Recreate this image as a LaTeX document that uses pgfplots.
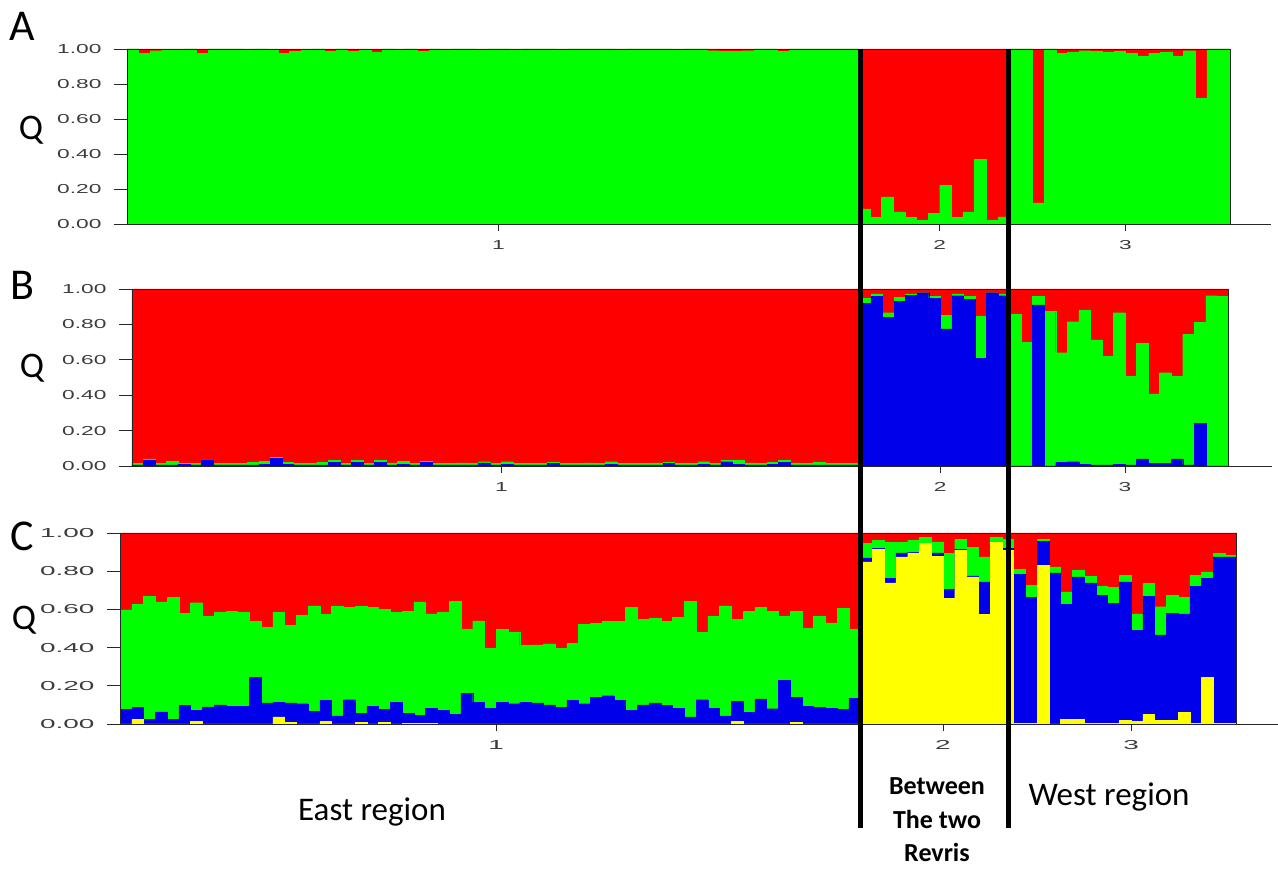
\documentclass[border=0pt]{standalone}
\usepackage{pgfplots}
\pgfplotsset{compat=1.18}
\usepackage{pgfplotstable}
\usepackage{fontspec}
\setmainfont{Carlito}
\newfontfamily\tickfont[FakeStretch=1.75]{Liberation Sans}
\newfontfamily\tickfontC[FakeStretch=2.15]{Liberation Sans}
\definecolor{cR}{RGB}{255,0,0}
\definecolor{cG}{RGB}{0,255,0}
\definecolor{cB}{RGB}{0,0,235}
\definecolor{cY}{RGB}{255,255,0}
\definecolor{tickgray}{RGB}{60,60,60}

% Panel A (K=2): g = cumulative green (bottom)
\pgfplotstableread{
i g
1 1.000
2 0.975
3 0.990
4 0.995
5 0.995
6 1.000
7 0.975
8 1.000
9 1.000
10 1.000
11 0.995
12 1.000
13 0.995
14 0.975
15 0.985
16 0.995
17 1.000
18 0.985
19 1.000
20 0.985
21 0.995
22 0.980
23 1.000
24 0.995
25 1.000
26 0.985
27 1.000
28 0.995
29 1.000
30 1.000
31 0.995
32 1.000
33 1.000
34 0.995
35 1.000
36 1.000
37 1.000
38 0.995
39 1.000
40 1.000
41 1.000
42 1.000
43 0.995
44 1.000
45 1.000
46 1.000
47 1.000
48 0.995
49 1.000
50 1.000
51 0.990
52 0.985
53 0.985
54 0.990
55 1.000
56 1.000
57 0.985
58 1.000
59 1.000
60 1.000
61 1.000
62 1.000
63 1.000
64 0.086
65 0.038
66 0.155
67 0.069
68 0.038
69 0.021
70 0.061
71 0.222
72 0.038
73 0.069
74 0.369
75 0.021
76 0.040
77 1.000
78 1.000
79 0.120
80 1.000
81 0.977
82 0.980
83 0.990
84 0.985
85 0.980
86 0.985
87 0.977
88 0.958
89 0.977
90 0.980
91 0.956
92 0.990
93 0.717
94 1.000
95 1.000
}\dataA

% Panel B (K=3): b = blue, g = blue+green (cumulative)
\pgfplotstableread{
i g b
1 0.016 0.006
2 0.040 0.034
3 0.016 0.006
4 0.028 0.006
5 0.016 0.008
6 0.016 0.006
7 0.034 0.030
8 0.016 0.006
9 0.014 0.006
10 0.014 0.006
11 0.020 0.006
12 0.028 0.008
13 0.048 0.043
14 0.022 0.010
15 0.016 0.006
16 0.014 0.006
17 0.020 0.006
18 0.030 0.022
19 0.016 0.006
20 0.030 0.022
21 0.016 0.006
22 0.030 0.022
23 0.018 0.006
24 0.028 0.010
25 0.016 0.006
26 0.026 0.020
27 0.016 0.006
28 0.014 0.006
29 0.018 0.006
30 0.016 0.006
31 0.024 0.018
32 0.016 0.006
33 0.024 0.008
34 0.016 0.006
35 0.014 0.006
36 0.016 0.006
37 0.022 0.016
38 0.016 0.006
39 0.014 0.006
40 0.018 0.006
41 0.016 0.006
42 0.024 0.008
43 0.016 0.006
44 0.014 0.006
45 0.016 0.006
46 0.018 0.006
47 0.022 0.016
48 0.016 0.006
49 0.014 0.006
50 0.024 0.008
51 0.016 0.006
52 0.030 0.024
53 0.030 0.010
54 0.018 0.006
55 0.016 0.006
56 0.020 0.008
57 0.032 0.022
58 0.018 0.006
59 0.014 0.006
60 0.022 0.006
61 0.016 0.006
62 0.014 0.006
63 0.016 0.006
64 0.947 0.919
65 0.972 0.960
66 0.866 0.838
67 0.951 0.932
68 0.972 0.966
69 0.979 0.979
70 0.960 0.947
71 0.853 0.774
72 0.972 0.962
73 0.957 0.942
74 0.844 0.608
75 0.979 0.979
76 0.972 0.962
77 0.857 0.000
78 0.697 0.000
79 0.960 0.910
80 0.872 0.000
81 0.640 0.019
82 0.815 0.024
83 0.878 0.008
84 0.712 0.006
85 0.621 0.006
86 0.866 0.011
87 0.508 0.006
88 0.693 0.040
89 0.407 0.015
90 0.527 0.015
91 0.508 0.040
92 0.744 0.006
93 0.810 0.241
94 0.962 0.000
95 0.957 0.000
}\dataB

% Panel C (K=4): yl = yellow, b = yellow+blue, g = yellow+blue+green
\pgfplotstableread{
i g b yl
1 0.597 0.075 0.000
2 0.628 0.087 0.026
3 0.670 0.023 0.000
4 0.640 0.063 0.000
5 0.663 0.026 0.000
6 0.579 0.097 0.000
7 0.635 0.070 0.014
8 0.565 0.089 0.000
9 0.584 0.100 0.000
10 0.588 0.092 0.000
11 0.583 0.092 0.000
12 0.536 0.243 0.000
13 0.506 0.110 0.000
14 0.583 0.113 0.037
15 0.518 0.110 0.010
16 0.570 0.106 0.000
17 0.619 0.066 0.000
18 0.574 0.122 0.014
19 0.617 0.043 0.000
20 0.609 0.127 0.000
21 0.617 0.054 0.008
22 0.609 0.092 0.000
23 0.600 0.075 0.008
24 0.583 0.115 0.000
25 0.591 0.057 0.005
26 0.640 0.045 0.005
27 0.576 0.083 0.005
28 0.583 0.070 0.000
29 0.643 0.049 0.000
30 0.497 0.162 0.000
31 0.540 0.113 0.000
32 0.397 0.083 0.000
33 0.497 0.113 0.000
34 0.478 0.106 0.000
35 0.410 0.113 0.000
36 0.414 0.110 0.000
37 0.419 0.100 0.000
38 0.397 0.087 0.000
39 0.423 0.123 0.000
40 0.522 0.106 0.000
41 0.527 0.141 0.000
42 0.536 0.148 0.000
43 0.539 0.122 0.000
44 0.609 0.070 0.000
45 0.548 0.100 0.000
46 0.553 0.110 0.000
47 0.539 0.097 0.000
48 0.558 0.083 0.000
49 0.643 0.037 0.000
50 0.480 0.127 0.000
51 0.562 0.083 0.000
52 0.619 0.043 0.000
53 0.548 0.118 0.014
54 0.591 0.061 0.000
55 0.610 0.132 0.000
56 0.588 0.080 0.000
57 0.562 0.228 0.000
58 0.588 0.141 0.008
59 0.501 0.092 0.000
60 0.562 0.087 0.000
61 0.530 0.083 0.000
62 0.605 0.078 0.000
63 0.497 0.136 0.000
64 0.944 0.870 0.849
65 0.960 0.920 0.913
66 0.950 0.762 0.739
67 0.950 0.896 0.875
68 0.962 0.900 0.896
69 0.979 0.944 0.944
70 0.953 0.896 0.878
71 0.892 0.706 0.657
72 0.965 0.915 0.910
73 0.923 0.776 0.770
74 0.875 0.744 0.574
75 0.979 0.953 0.953
76 0.965 0.918 0.910
77 0.809 0.783 0.005
78 0.727 0.663 0.005
79 0.965 0.958 0.831
80 0.823 0.791 0.000
81 0.692 0.626 0.026
82 0.805 0.770 0.026
83 0.774 0.739 0.005
84 0.722 0.675 0.005
85 0.715 0.631 0.005
86 0.779 0.744 0.019
87 0.576 0.489 0.014
88 0.736 0.670 0.049
89 0.614 0.466 0.019
90 0.675 0.579 0.019
91 0.663 0.576 0.061
92 0.779 0.722 0.005
93 0.797 0.762 0.243
94 0.892 0.875 0.005
95 0.883 0.875 0.005
}\dataC

\pgfplotsset{
  structplot/.style={
    scale only axis, anchor=south west,
    xmin=0.5, xmax=95.5, ymin=0, ymax=1,
    axis on top,
    axis line style={black!85, line width=0.9pt},
    tick align=outside, tick pos=left,
    major tick length=13pt,
    xtick={32.5,70.5,86.5}, xticklabels={1,2,3},
    ytick={0,0.2,0.4,0.6,0.8,1},
    yticklabels={0.00,0.20,0.40,0.60,0.80,1.00},
    tick style={black!85, line width=0.9pt},
    xtick style={/pgfplots/major tick length=7pt},
    ticklabel style={text=tickgray},
    yticklabel style={xshift=-9pt},
  },
  qbar/.style={ybar, bar width=1, bar shift=0pt, line width=0.4pt},
}

\begin{document}
\begin{tikzpicture}[x=1pt,y=1pt]
\useasboundingbox (0,0) rectangle (1278,869);

% ---- Panel A ----
\begin{axis}[structplot, at={(127pt,645pt)}, width=1103pt, height=175pt,
  ticklabel style={font=\fontsize{13}{15}\selectfont\tickfont}]
\addplot[qbar, fill=cR, draw=cR] table[x=i, y expr=1] {\dataA};
\addplot[qbar, fill=cG, draw=cG] table[x=i, y=g] {\dataA};
\end{axis}

% ---- Panel B ----
\begin{axis}[structplot, at={(132pt,403pt)}, width=1097pt, height=177pt,
  ticklabel style={font=\fontsize{13}{15}\selectfont\tickfont}]
\addplot[qbar, fill=cR, draw=cR] table[x=i, y expr=1] {\dataB};
\addplot[qbar, fill=cG, draw=cG] table[x=i, y=g] {\dataB};
\addplot[qbar, fill=cB, draw=cB] table[x=i, y=b] {\dataB};
\end{axis}

% ---- Panel C ----
\begin{axis}[structplot, at={(120pt,145pt)}, width=1117pt, height=191pt,
  ticklabel style={font=\fontsize{13}{15}\selectfont\tickfontC}]
\addplot[qbar, fill=cR, draw=cR] table[x=i, y expr=1] {\dataC};
\addplot[qbar, fill=cG, draw=cG] table[x=i, y=g] {\dataC};
\addplot[qbar, fill=cB, draw=cB] table[x=i, y=b] {\dataC};
\addplot[qbar, fill=cY, draw=cY] table[x=i, y=yl] {\dataC};
\end{axis}

% x-axis lines continuing past the plots
\draw[black!85, line width=0.9pt] (1230,645) -- (1271,645);
\draw[black!85, line width=0.9pt] (1229,403) -- (1272,403);
\draw[black!85, line width=0.9pt] (1237,145) -- (1278,145);

% population separators
\draw[black, line width=5pt] (860.5,820) -- (860.5,41);
\draw[black, line width=5pt] (1008.5,820) -- (1008.5,41);

% panel letters and Q labels
\node[font=\fontsize{44}{50}\selectfont] at (22,843) {A};
\node[font=\fontsize{44}{50}\selectfont] at (22,584) {B};
\node[font=\fontsize{44}{50}\selectfont] at (22,333) {C};
\node[font=\fontsize{36}{40}\selectfont] at (31,739) {Q};
\node[font=\fontsize{36}{40}\selectfont] at (32,501) {Q};
\node[font=\fontsize{36}{40}\selectfont] at (24,249) {Q};

% region labels
\node[font=\fontsize{33}{38}\selectfont] at (372,57) {East region};
\node[font=\fontsize{33}{38}\selectfont] at (1109,72) {West region};
\node[font=\fontsize{26}{32}\selectfont\bfseries, inner sep=0pt, anchor=base] at (937,74) {Between};
\node[font=\fontsize{26}{32}\selectfont\bfseries, inner sep=0pt, anchor=base] at (937,40) {The two};
\node[font=\fontsize{26}{32}\selectfont\bfseries, inner sep=0pt, anchor=base] at (937,7) {Revris};
\end{tikzpicture}
\end{document}
